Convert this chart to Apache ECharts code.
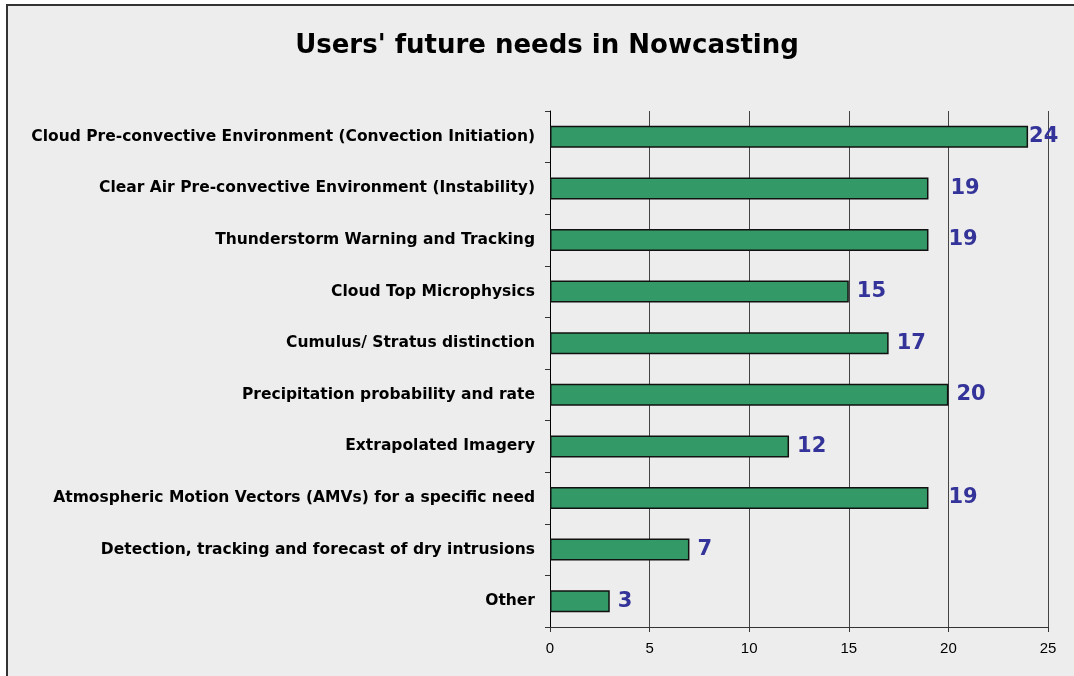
<!DOCTYPE html>
<html>
<head>
<meta charset="utf-8">
<script src="https://cdn.jsdelivr.net/npm/echarts@6/dist/echarts.min.js"></script>
<style>
html,body{margin:0;padding:0;background:#fff;}
#chart{width:1074px;height:676px;}
</style>
</head>
<body>
<div id="chart"></div>
<script>
var categories = [
  "Cloud Pre-convective Environment (Convection Initiation)",
  "Clear Air Pre-convective Environment (Instability)",
  "Thunderstorm Warning and Tracking",
  "Cloud Top Microphysics",
  "Cumulus/ Stratus distinction",
  "Precipitation probability and rate",
  "Extrapolated Imagery",
  "Atmospheric Motion Vectors (AMVs) for a specific need",
  "Detection, tracking and forecast of dry intrusions",
  "Other"
];
var values = [24, 19, 19, 15, 17, 20, 12, 19, 7, 3];
var xTicks = [0, 5, 10, 15, 20, 25];
var titleText = "Users' future needs in Nowcasting";

// label distances as in the original layout
var labelDistance = [1, 22, 20, 8, 8, 8, 8, 20, 8, 8];

var chart = echarts.init(document.getElementById('chart'));
var option = {
  backgroundColor: '#ffffff',
  animation: false,
  graphic: [{
    type: 'rect',
    shape: {x: 7, y: 5, width: 1070, height: 675},
    style: {fill: '#ededed'},
    z: -10
  }, {
    type: 'polyline',
    shape: {points: [[7, 676], [7, 5], [1074, 5]]},
    style: {stroke: '#333333', lineWidth: 2, fill: null},
    z: -9
  }],
  title: {
    text: titleText,
    left: 542,
    top: 28,
    textAlign: 'center',
    textStyle: {fontFamily: 'DejaVu Sans', fontWeight: 'bold', fontSize: 26, color: '#000'}
  },
  grid: {left: 550, right: 26, top: 111, bottom: 49, containLabel: false},
  xAxis: {
    type: 'value',
    min: 0, max: 25, interval: 5,
    axisLine: {show: true, lineStyle: {color: '#333', width: 1}},
    axisTick: {show: true, length: 5, lineStyle: {color: '#333'}},
    splitLine: {show: true, lineStyle: {color: '#444', width: 1}},
    axisLabel: {
      margin: 14,
      fontFamily: 'Liberation Sans, Arial', fontSize: 15, color: '#000',
      formatter: function (v) { return xTicks.indexOf(v) >= 0 ? String(v) : ''; }
    }
  },
  yAxis: {
    type: 'category',
    data: categories,
    inverse: true,
    axisLine: {show: true, lineStyle: {color: '#000', width: 1}},
    axisTick: {show: true, length: 5, lineStyle: {color: '#333'}},
    axisLabel: {
      margin: 15,
      fontFamily: 'DejaVu Sans', fontWeight: 'bold', fontSize: 15.5, color: '#000'
    }
  },
  series: [{
    type: 'bar',
    barWidth: 22,
    data: values.map(function (v, i) {
      return {value: v, label: {distance: labelDistance[i]}};
    }),
    itemStyle: {color: '#339966', borderColor: '#111', borderWidth: 1.5},
    label: {
      show: true, position: 'right',
      fontFamily: 'DejaVu Sans', fontWeight: 'bold', fontSize: 21, color: '#333399'
    }
  }]
};
chart.setOption(option);
</script>
</body>
</html>
